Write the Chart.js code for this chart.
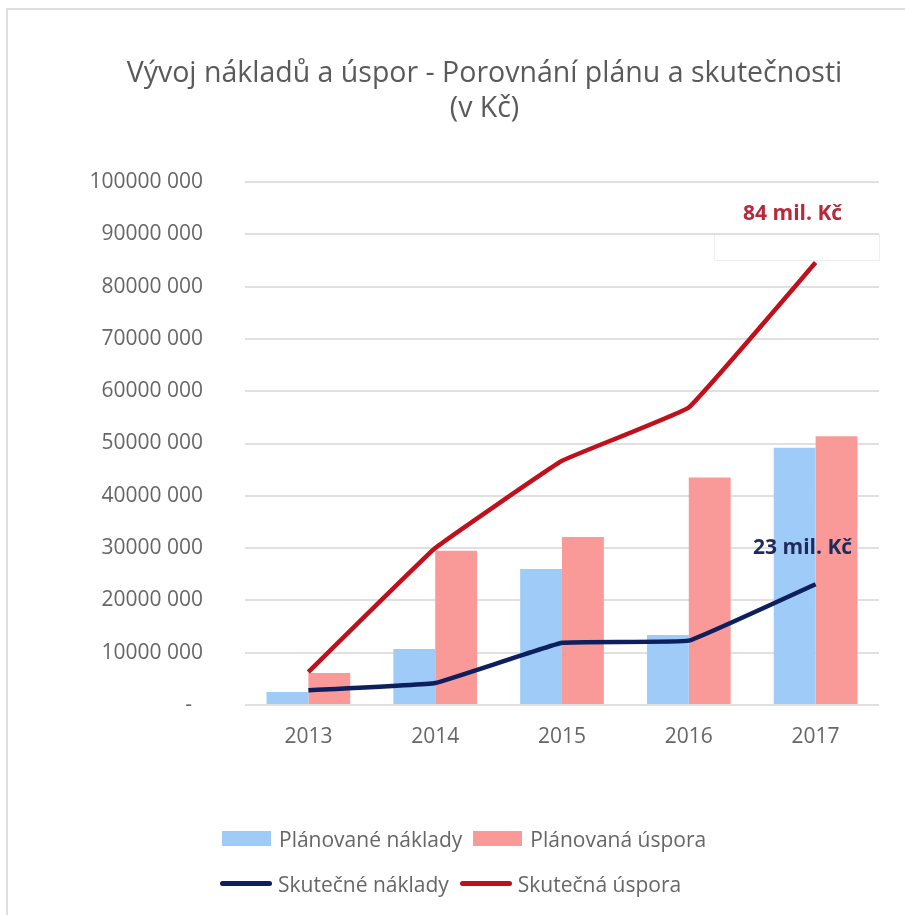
<!DOCTYPE html>
<html>
<head>
<meta charset="utf-8">
<script src="https://cdn.jsdelivr.net/npm/chart.js@4.4.1/dist/chart.umd.min.js"></script>
<style>
  html, body { margin: 0; padding: 0; background: #fff; }
  body { width: 905px; height: 915px; position: relative; overflow: hidden; font-family: "Open Sans", sans-serif; }
  #frame { position: absolute; left: 6px; top: 8px; width: 1000px; height: 1000px; border-left: 2px solid #dedede; border-top: 2px solid #dedede; }
  #wrap { position: absolute; left: 0; top: 0; width: 905px; height: 915px; }
  .legrow { position: absolute; display: flex; align-items: center; font-size: 21px; color: #666; white-space: nowrap; }
  .legitem { display: flex; align-items: center; margin-right: 7px; }
  .sw { display: inline-block; margin-right: 8px; }
</style>
</head>
<body>
<div id="frame"></div>
<div id="wrap"><canvas id="c" width="905" height="915"></canvas></div>
<div id="legend"></div>
<script>
// ---- data ----
const years = ['2013', '2014', '2015', '2016', '2017'];
const planCosts = [2.5e6, 10.7e6, 26.0e6, 13.4e6, 49.2e6];
const planSavings = [6.1e6, 29.5e6, 32.1e6, 43.5e6, 51.4e6];
const actualCosts = [2.8e6, 4.2e6, 11.9e6, 12.3e6, 23.1e6];
const actualSavings = [6.3e6, 30.0e6, 46.7e6, 56.9e6, 84.6e6];
const seriesNames = ['Plánované náklady', 'Plánovaná úspora', 'Skutečné náklady', 'Skutečná úspora'];
const yTickLabels = ['-  ', '10000 000', '20000 000', '30000 000', '40000 000', '50000 000',
                     '60000 000', '70000 000', '80000 000', '90000 000', '100000 000'];
const titleLines = ['Vývoj nákladů a úspor - Porovnání plánu a skutečnosti', '(v Kč)'];
const endLabels = ['23 mil. Kč', '84 mil. Kč'];

// ---- styles ----
const FONT = '"Open Sans", sans-serif';
const colors = { planCosts: '#9ecbf7', planSavings: '#fa9a98', actualCosts: '#0d1f5c', actualSavings: '#c0101c' };

const endLabelPlugin = {
  id: 'endLabels',
  afterDatasetsDraw(chart) {
    const ctx = chart.ctx;
    const specs = [
      { ds: 2, text: endLabels[0], color: '#1f2a5a', dx: -13, dy: -36, box: false },
      { ds: 3, text: endLabels[1], color: '#b8283a', dx: -23, dy: -49, box: true }
    ];
    specs.forEach(s => {
      const meta = chart.getDatasetMeta(s.ds);
      const pt = meta.data[meta.data.length - 1];
      const x = pt.x + s.dx, y = pt.y + s.dy;
      ctx.save();
      if (s.box) {
        ctx.fillStyle = '#ffffff';
        ctx.strokeStyle = 'rgba(0,0,0,0.07)';
        ctx.lineWidth = 1;
        ctx.beginPath();
        ctx.rect(x - 78, y + 21, 165, 26);
        ctx.fill();
        ctx.stroke();
      }
      ctx.font = 'bold 21px ' + FONT;
      ctx.fillStyle = s.color;
      ctx.textAlign = 'center';
      ctx.textBaseline = 'middle';
      ctx.fillText(s.text, x, y);
      ctx.restore();
    });
  }
};

const chart = new Chart(document.getElementById('c'), {
  type: 'bar',
  data: {
    labels: years,
    datasets: [
      { label: seriesNames[0], data: planCosts, backgroundColor: colors.planCosts, order: 2,
        categoryPercentage: 0.66, barPercentage: 1.0 },
      { label: seriesNames[1], data: planSavings, backgroundColor: colors.planSavings, order: 2,
        categoryPercentage: 0.66, barPercentage: 1.0 },
      { type: 'line', label: seriesNames[2], data: actualCosts, borderColor: colors.actualCosts,
        backgroundColor: colors.actualCosts, borderWidth: 4.5, pointRadius: 0, tension: 0.07, order: 1 },
      { type: 'line', label: seriesNames[3], data: actualSavings, borderColor: colors.actualSavings,
        backgroundColor: colors.actualSavings, borderWidth: 4.5, pointRadius: 0, tension: 0.07, order: 1 }
    ]
  },
  options: {
    responsive: false,
    animation: false,
    layout: { padding: { top: 20, left: 90, right: 26, bottom: 160 } },
    plugins: {
      legend: { display: false },
      tooltip: { enabled: false },
      title: {
        display: true,
        text: titleLines,
        color: '#5a5a5a',
        font: { family: FONT, size: 28.5, weight: 'normal', lineHeight: 35 / 28.5 },
        padding: { top: 36, bottom: 56 }
      }
    },
    scales: {
      x: {
        grid: { display: false, drawTicks: false },
        border: { display: false },
        ticks: { color: '#666', font: { family: FONT, size: 21 }, padding: 19 },
        afterFit(s) { s.height = 50; }
      },
      y: {
        min: 0, max: 100e6,
        grid: { color: '#e0e0e0', lineWidth: 2, drawTicks: false },
        border: { display: false },
        ticks: {
          stepSize: 10e6, color: '#666', font: { family: FONT, size: 21 }, padding: 42,
          callback: (v, i) => yTickLabels[i]
        },
        afterFit(s) { s.width = 155; }
      }
    }
  },
  plugins: [endLabelPlugin]
});

// ---- HTML legend (two rows, as in the original) ----
const legend = document.getElementById('legend');
const rows = [
  { top: 826, left: 222, items: [0, 1] },
  { top: 871, left: 220, items: [2, 3] }
];
rows.forEach(r => {
  const row = document.createElement('div');
  row.className = 'legrow';
  row.style.top = r.top + 'px';
  row.style.left = r.left + 'px';
  row.style.height = '25px';
  r.items.forEach((idx, k) => {
    const ds = chart.data.datasets[idx];
    const item = document.createElement('div');
    item.className = 'legitem';
    if (k > 0) item.style.marginLeft = '4px';
    const sw = document.createElement('span');
    sw.className = 'sw';
    if (ds.type === 'line') {
      sw.style.width = '52px'; sw.style.height = '5px'; sw.style.borderRadius = '3px';
      sw.style.background = ds.borderColor; sw.style.marginRight = '6px';
    } else {
      sw.style.width = '49px'; sw.style.height = '15px';
      sw.style.background = ds.backgroundColor;
    }
    const tx = document.createElement('span');
    tx.textContent = ds.label;
    item.appendChild(sw); item.appendChild(tx);
    row.appendChild(item);
  });
  legend.appendChild(row);
});
</script>
</body>
</html>
